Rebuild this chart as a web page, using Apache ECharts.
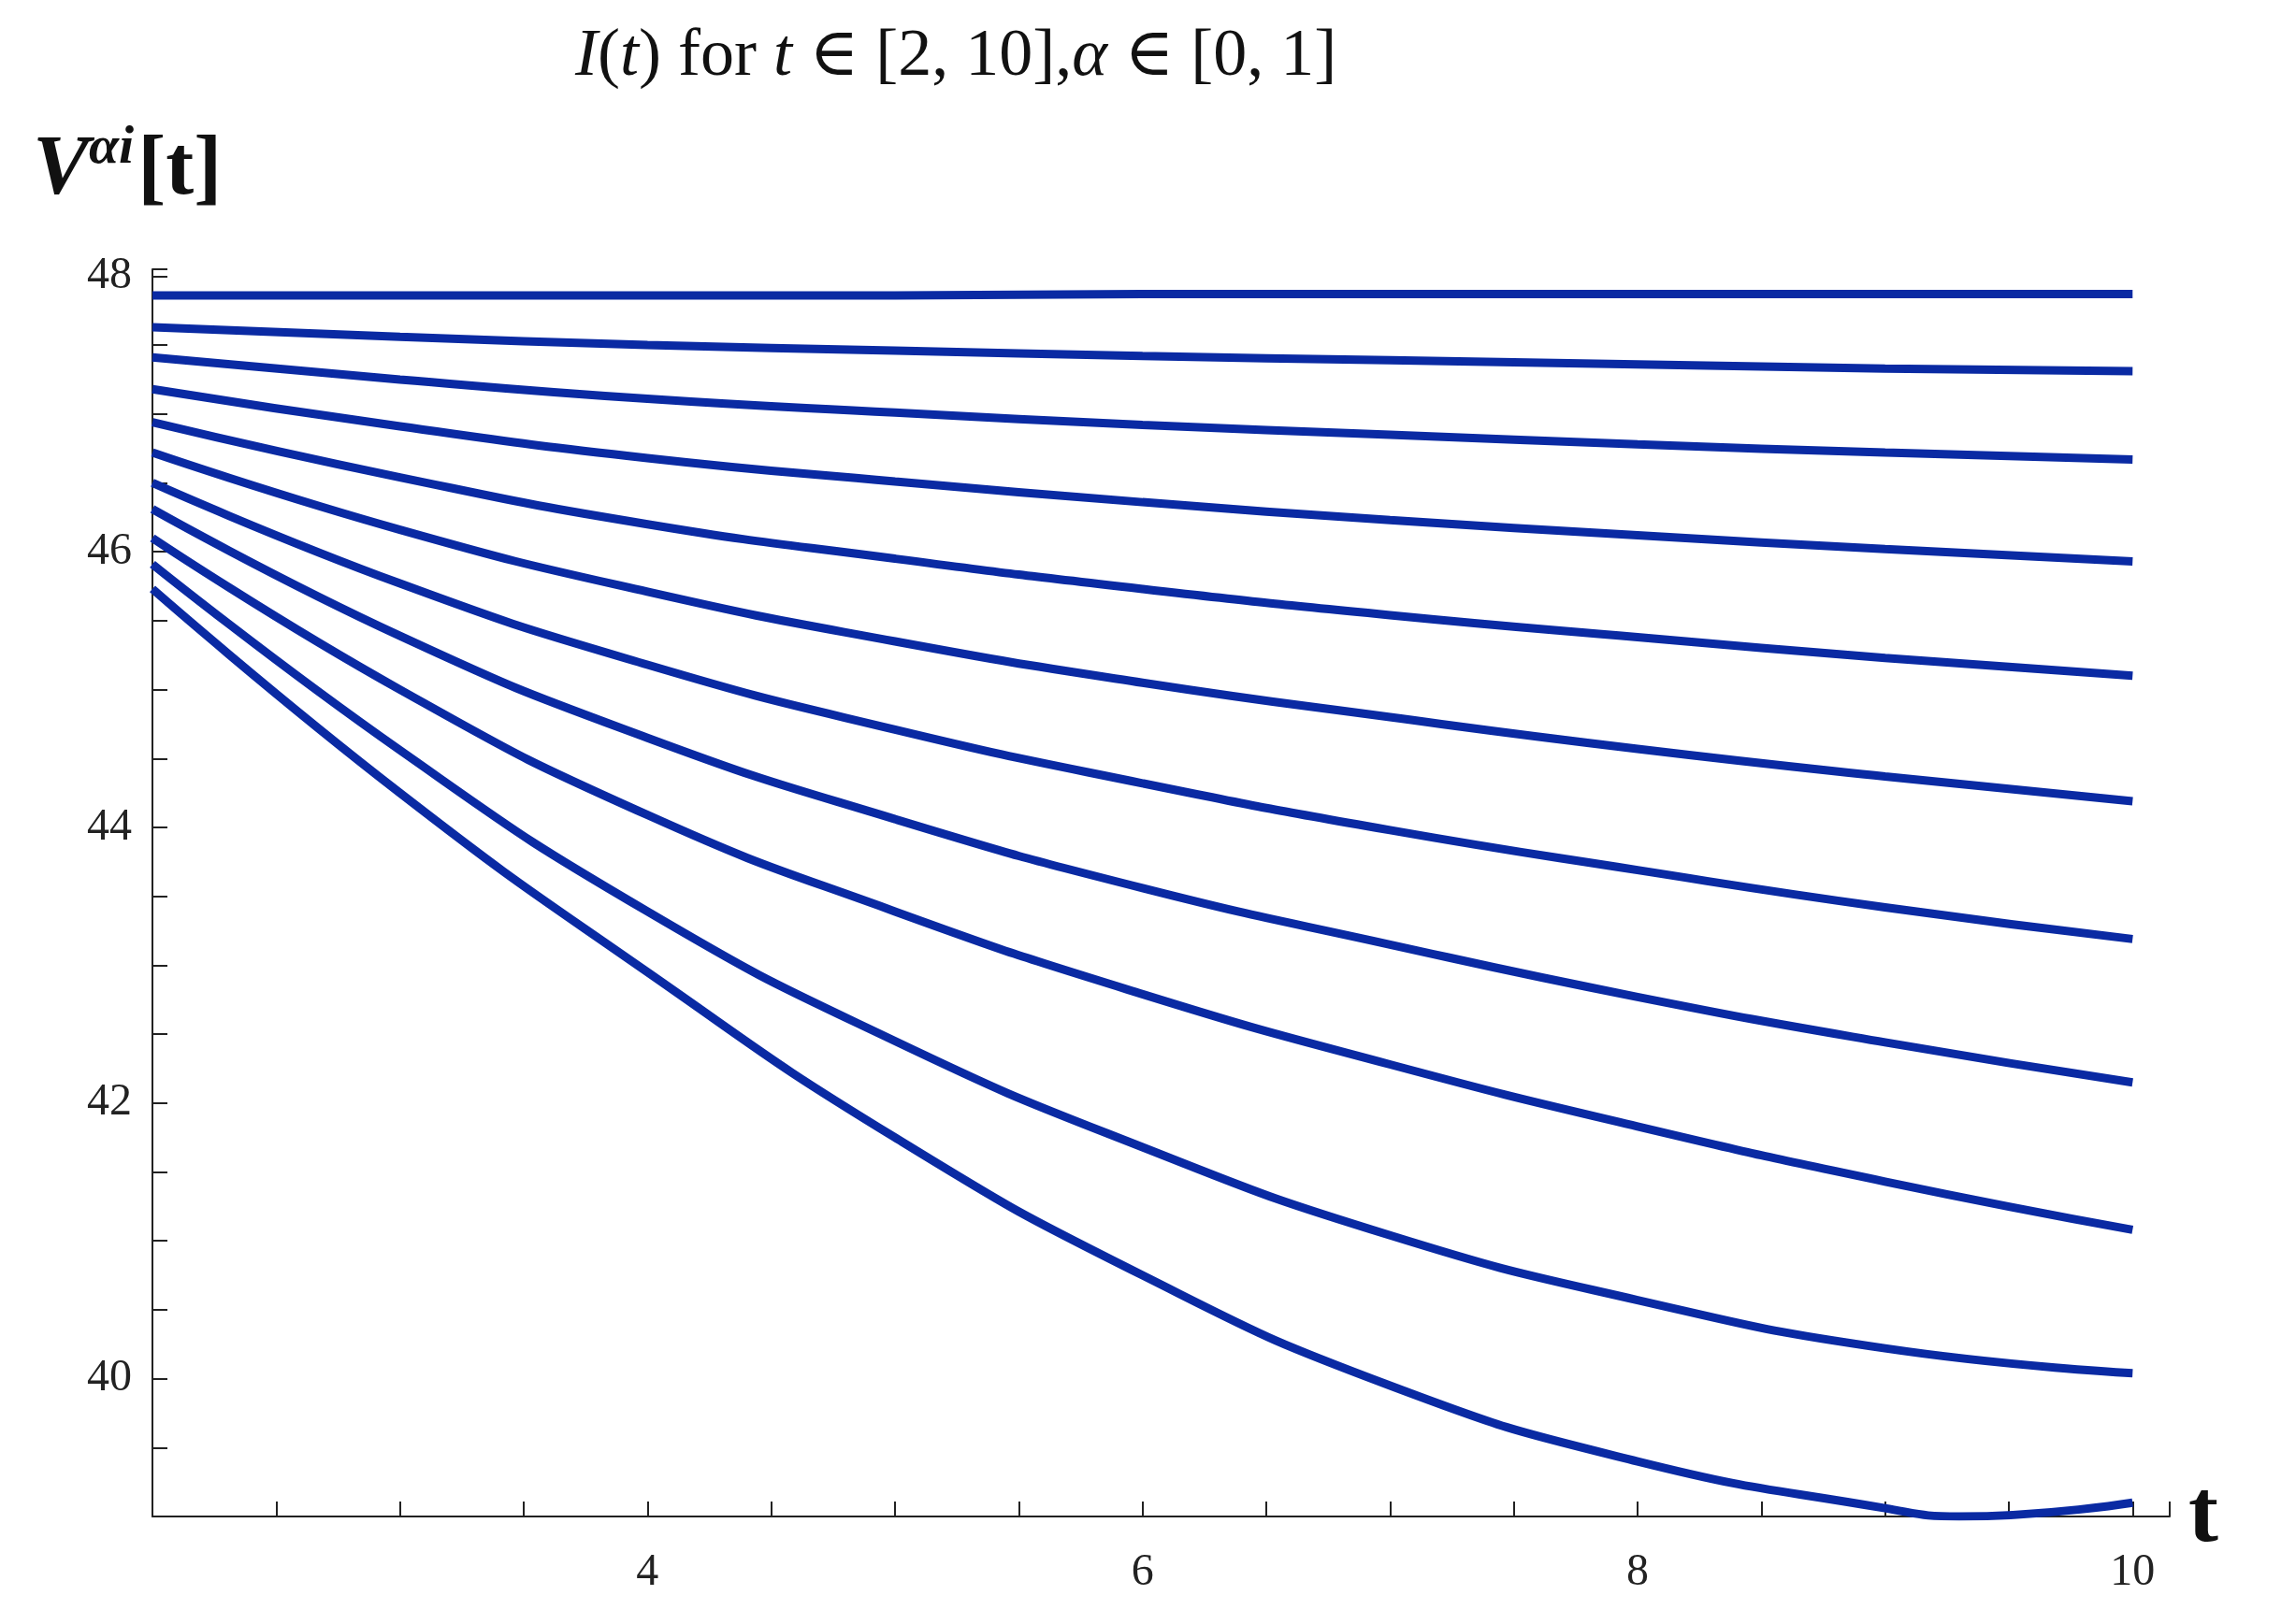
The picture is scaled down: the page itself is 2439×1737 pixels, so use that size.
<!DOCTYPE html>
<html><head><meta charset="utf-8">
<script src="https://cdn.jsdelivr.net/npm/echarts@6/dist/echarts.min.js"></script>
<style>html,body{margin:0;background:#fff}#c{width:2439px;height:1737px}</style>
</head><body><div id="c"></div>
<script>
const tValues = [2, 3, 4, 5, 6, 7, 8, 9, 10];
const curves = [
  [47.86, 47.86, 47.86, 47.86, 47.87, 47.87, 47.87, 47.87, 47.87],
  [47.63, 47.56, 47.50, 47.46, 47.42, 47.39, 47.36, 47.33, 47.31],
  [47.41, 47.25, 47.11, 47.01, 46.92, 46.85, 46.78, 46.72, 46.67],
  [47.18, 46.91, 46.68, 46.51, 46.36, 46.23, 46.12, 46.02, 45.93],
  [46.94, 46.54, 46.20, 45.95, 45.73, 45.54, 45.38, 45.23, 45.10],
  [46.72, 46.16, 45.71, 45.35, 45.05, 44.80, 44.57, 44.37, 44.19],
  [46.50, 45.77, 45.18, 44.71, 44.32, 43.98, 43.69, 43.42, 43.19],
  [46.31, 45.39, 44.65, 44.06, 43.56, 43.15, 42.77, 42.44, 42.15],
  [46.10, 45.00, 44.09, 43.39, 42.79, 42.28, 41.83, 41.43, 41.08],
  [45.91, 44.56, 43.39, 42.45, 41.68, 41.04, 40.57, 40.22, 40.04]
];
const bottomT = [2, 3, 4, 5, 6, 7, 8, 9, 9.3, 10];
const bottomV = [45.73, 44.25, 42.95, 41.75, 40.75, 39.95, 39.40, 39.06, 39.00, 39.10];

const series = curves.map(v => ({
  type: 'line', smooth: 0.5, symbol: 'none',
  data: tValues.map((t, i) => [t, v[i]]),
  lineStyle: {color: '#0a2aa3', width: 9}
}));
series.push({type: 'line', smooth: 0.5, symbol: 'none',
  data: bottomT.map((t, i) => [t, bottomV[i]]),
  lineStyle: {color: '#0a2aa3', width: 9}});

const serif = 'Liberation Serif, DejaVu Serif, serif';
const chart = echarts.init(document.getElementById('c'));
chart.setOption({
  animation: false,
  backgroundColor: '#fff',
  graphic: [
    {type: 'text', left: 615, top: 25, style: {
      text: '{i|I}{n|(}{i|t}{n|) for }{i|t}{n| ∈ [2, 10],}{i|α}{n| ∈ [0, 1]}',
      rich: {
        i: {fontFamily: serif, fontStyle: 'italic', fontSize: 72, fill: '#111'},
        n: {fontFamily: serif, fontSize: 72, fill: '#111'}
      }}},
    {type: 'text', left: 35, top: 130, style: {
      text: '{v|V}{s|αi}{b|[t]}',
      rich: {
        v: {fontFamily: serif, fontStyle: 'italic', fontWeight: 'bold', fontSize: 90, fill: '#111'},
        s: {fontFamily: serif, fontStyle: 'italic', fontWeight: 'bold', fontSize: 58, fill: '#111', verticalAlign: 'top', padding: [0, 4, 50, 0]},
        b: {fontFamily: serif, fontWeight: 'bold', fontSize: 90, fill: '#111'}
      }}},
    {type: 'text', left: 2340, top: 1575, style: {text: 't', fontFamily: serif, fontWeight: 'bold', fontSize: 96, fill: '#111'}}
  ],
  grid: {left: 163, right: 119, top: 288, bottom: 115},
  xAxis: {
    type: 'value', min: 2, max: 10.15, interval: 0.5,
    axisLine: {onZero: false, lineStyle: {color: '#222', width: 2}},
    axisTick: {inside: true, length: 16, lineStyle: {color: '#222', width: 2}},
    splitLine: {show: false},
    axisLabel: {fontFamily: serif, fontSize: 48, color: '#222', margin: 36,
      formatter: v => (v % 2 === 0 && v > 2) ? String(v) : ''}
  },
  yAxis: {
    type: 'value', min: 39, max: 48.05, interval: 0.5,
    axisLine: {show: true, lineStyle: {color: '#222', width: 2}},
    axisTick: {show: true, inside: true, length: 16, lineStyle: {color: '#222', width: 2}},
    splitLine: {show: false},
    axisLabel: {fontFamily: serif, fontSize: 48, color: '#222', margin: 22,
      formatter: v => (v % 2 === 0) ? String(v) : ''}
  },
  series
});
</script></body></html>
